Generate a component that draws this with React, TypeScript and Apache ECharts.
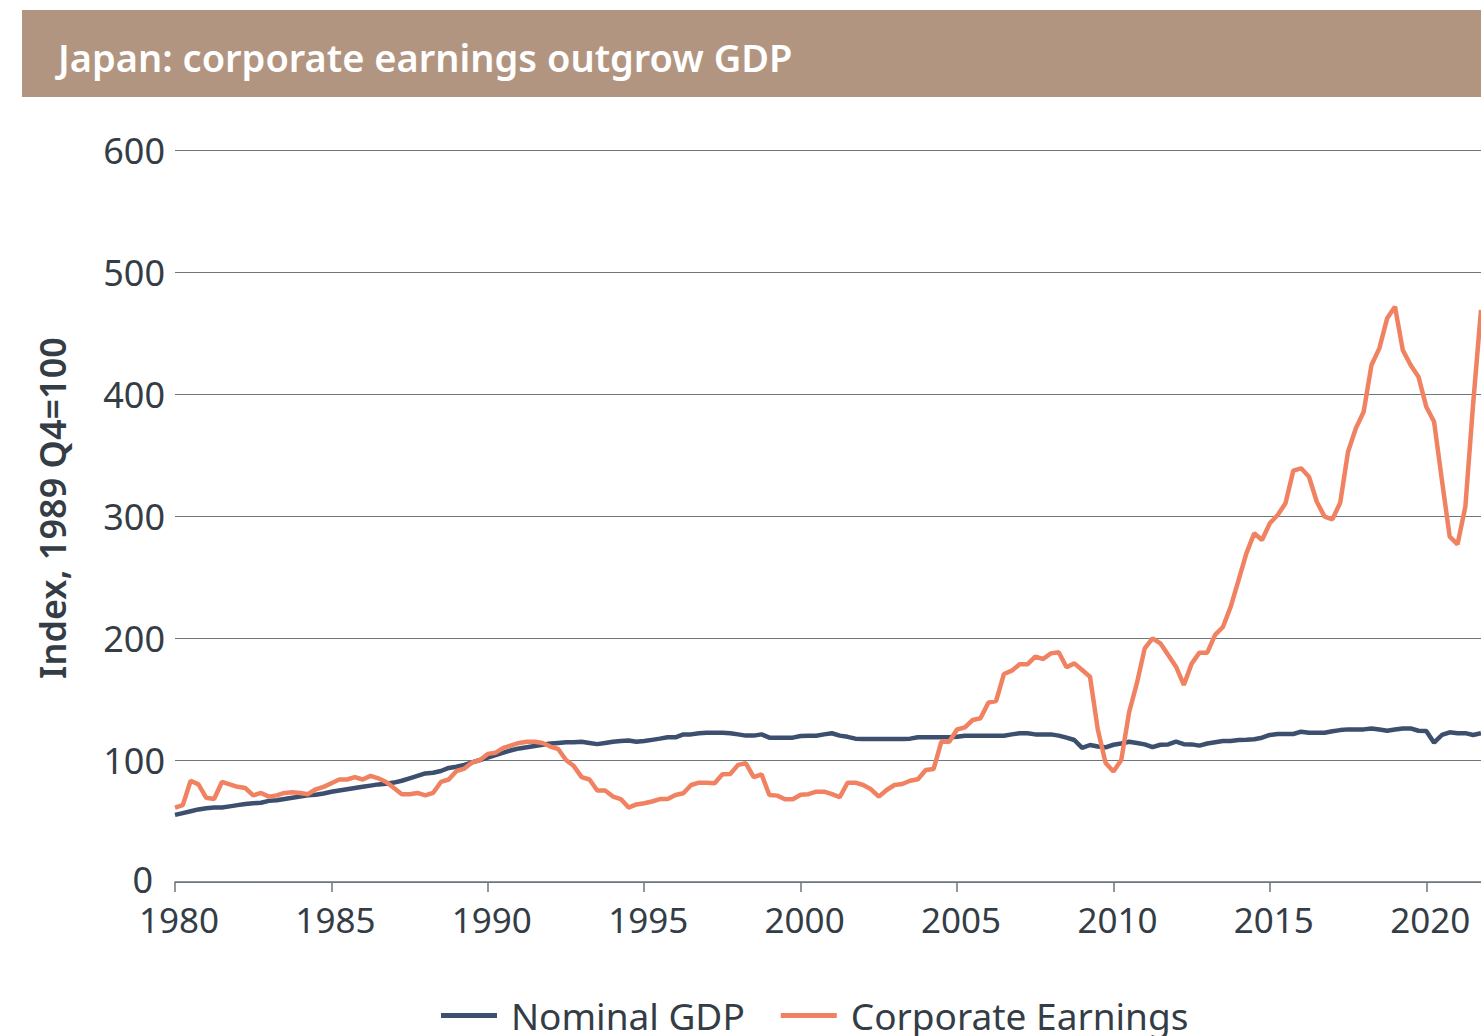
import React, { useEffect, useRef } from "react";
import * as echarts from "echarts";

// Quarterly index values, 1980 Q1 .. 2021 Q4 (1989 Q4 = 100)
const startYear = 1980;
const nominalGDP: number[] = [
  55, 56.5, 58, 59.5, 60.5, 61, 61, 62, 63, 64,
  64.5, 65, 66.5, 67, 68, 69, 70, 71, 71.5, 72.5,
  74, 75, 76, 77, 78, 79, 80, 80.5, 81.5, 83,
  85, 87, 89, 89.5, 91, 93.5, 94.5, 96, 98, 100,
  102, 104, 106, 108, 109.5, 110.5, 111.5, 112.5, 113.5, 114,
  114.5, 114.5, 115, 114, 113, 114, 115, 115.5, 116, 115,
  115.5, 116.5, 117.5, 118.6, 118.6, 121, 121, 122, 122.4, 122.4,
  122.4, 122, 121, 120, 120, 121, 118.3, 118.3, 118.3, 118.3,
  119.7, 119.9, 119.9, 121, 121.9, 120, 119, 117.5, 117.2, 117.2,
  117.2, 117.2, 117.2, 117.2, 117.5, 118.6, 118.6, 118.6, 118.6, 118.6,
  119, 119.9, 119.9, 119.9, 119.9, 119.9, 119.9, 121, 121.9, 121.9,
  121, 121, 121, 120, 118.3, 116.4, 110, 112.3, 111, 110.4,
  112.5, 113.5, 115, 114, 112.8, 110.5, 112.5, 112.8, 115, 113,
  112.8, 111.8, 113.5, 114.5, 115.5, 115.6, 116.4, 116.6, 117, 118.3,
  120.5, 121.3, 121.3, 121.3, 123.2, 122.4, 122.4, 122.4, 123.5, 124.5,
  125.1, 125.1, 125.1, 125.9, 125, 124, 125, 125.9, 125.9, 124,
  123.8, 114.2, 120.5, 122.7, 122, 122, 120.5, 122,
];
const corporateEarnings: number[] = [
  61, 63, 83, 80, 69, 68, 82, 80, 78, 77,
  71, 73, 70, 71, 73, 73.5, 73, 72, 76, 78,
  81, 84, 84, 86, 84, 87, 85, 82, 77, 72,
  72, 73, 71, 73, 82, 84, 91, 93, 98, 100,
  105, 106, 110, 112, 114, 115, 115, 114, 111, 109,
  100, 95, 86, 84, 75, 75, 70, 68, 61, 63.6,
  64.5, 66, 68, 68, 71.3, 72.7, 79.5, 81.4, 81.4, 81,
  88.3, 88.5, 96, 97.3, 86, 88.3, 71.3, 70.8, 67.8, 67.8,
  71.5, 72, 74, 74, 72, 69.5, 81.4, 81.4, 79.5, 76,
  70, 75.4, 79.5, 80.3, 83, 84.2, 91.8, 92.6, 115, 115,
  125, 126.8, 132.8, 134.2, 147, 148.4, 170.5, 173.2, 178.4, 178.4,
  184.7, 182.8, 187.4, 188.3, 176, 179.2, 173.8, 168.3, 125, 97.5,
  90.5, 100, 139, 163, 191.5, 199.7, 195.6, 186, 176.5, 161.5,
  179, 188, 188, 202.5, 209, 225.7, 247.5, 269.4, 285.8, 280.3,
  294, 300.8, 310.4, 337.2, 339.1, 332.2, 311.7, 299.5, 297.3, 310.9,
  352.7, 371.9, 385.5, 423.8, 437.4, 462, 471.6, 436, 423.8, 414.2,
  389.6, 377.3, 329.5, 283, 276.8, 307.7, 392.4, 468.9,
];
const yTicks = { min: 0, max: 600, interval: 100 };
const xTicks = { min: 1980, interval: 5 };

const titleText = "Japan: corporate earnings outgrow GDP";
const yAxisTitle = "Index, 1989 Q4=100";
const seriesNames = ["Nominal GDP", "Corporate Earnings"];

const toPairs = (vals: number[]) =>
  vals.map((v, i) => [startYear + i / 4, v]);

export default function App() {
  const ref = useRef<HTMLDivElement>(null);
  useEffect(() => {
    if (!ref.current) return;
    const chart = echarts.init(ref.current, undefined, { renderer: "svg" });
    const font = "'Noto Sans', 'Open Sans', sans-serif";
    const textColor = "#343d46";
    const lineGrey = "#6e757c";
    const xMax = startYear + (nominalGDP.length - 1) / 4;
    chart.setOption({
      animation: false,
      backgroundColor: "#ffffff",
      textStyle: { fontFamily: font },
      graphic: [
        {
          type: "rect",
          shape: { x: 22, y: 10, width: 1481 - 22, height: 87 },
          style: { fill: "#b29580" },
          silent: true,
        },
        {
          type: "text",
          x: 58,
          y: 57,
          style: {
            text: titleText,
            fill: "#ffffff",
            fontSize: 38,
            fontWeight: 600,
            fontFamily: font,
            verticalAlign: "middle",
            align: "left",
          },
        },
        {
          type: "text",
          x: 52,
          y: 508,
          rotation: Math.PI / 2,
          style: {
            text: yAxisTitle,
            fill: textColor,
            fontSize: 36,
            fontWeight: 600,
            fontFamily: font,
            align: "center",
            verticalAlign: "middle",
          },
        },
      ],
      grid: { left: 175, right: 0, top: 150, bottom: 154, containLabel: false },
      legend: {
        left: 436,
        top: 992,
        itemWidth: 56,
        itemHeight: 5,
        itemGap: 36,
        icon: "rect",
        textStyle: {
          fontSize: 37,
          color: textColor,
          fontFamily: font,
          padding: [0, 0, 0, 9],
        },
        data: seriesNames,
      },
      xAxis: {
        type: "value",
        min: xTicks.min,
        max: xMax,
        interval: xTicks.interval,
        axisLine: { show: true, lineStyle: { color: lineGrey, width: 1.5 } },
        axisTick: { show: true, length: 10, lineStyle: { color: lineGrey, width: 1.5 } },
        splitLine: { show: false },
        axisLabel: {
          fontSize: 35,
          color: textColor,
          margin: 20,
          showMaxLabel: false,
          padding: [0, 0, 0, 8],
          formatter: (v: number) => (Math.abs(v % 5) < 1e-6 ? String(v) : ""),
        },
      },
      yAxis: {
        type: "value",
        min: yTicks.min,
        max: yTicks.max,
        interval: yTicks.interval,
        axisLine: { show: false },
        axisTick: { show: false },
        splitLine: { show: true, lineStyle: { color: lineGrey, width: 1.2 } },
        axisLabel: {
          fontSize: 36,
          color: textColor,
          margin: 10,
          formatter: (v: number) => (v === 0 ? "{z|0}" : String(v)),
          rich: {
            z: { fontSize: 36, color: textColor, fontFamily: font, padding: [0, 12, 6, 0] },
          },
        },
      },
      series: [
        {
          name: seriesNames[0],
          type: "line",
          data: toPairs(nominalGDP),
          showSymbol: false,
          symbol: "none",
          lineStyle: { color: "#3c4f6e", width: 4.5 },
          itemStyle: { color: "#3c4f6e" },
          z: 3,
        },
        {
          name: seriesNames[1],
          type: "line",
          data: toPairs(corporateEarnings),
          showSymbol: false,
          symbol: "none",
          lineStyle: { color: "#f08262", width: 4.5 },
          itemStyle: { color: "#f08262" },
          z: 4,
        },
      ],
    });
    return () => chart.dispose();
  }, []);
  return (
    <div
      style={{ position: "absolute", left: 0, top: 0, width: 1481, height: 1036, overflow: "hidden" }}
    >
      <div ref={ref} style={{ width: 1481, height: 1036 }} />
    </div>
  );
}
